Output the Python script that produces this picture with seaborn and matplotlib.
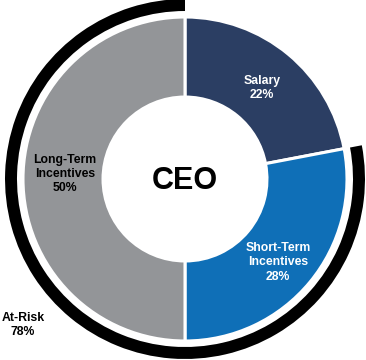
import matplotlib
matplotlib.use("Agg")
import matplotlib.pyplot as plt
import seaborn as sns

categories = ["Salary", "Short-Term\nIncentives", "Long-Term\nIncentives"]
values = [22, 28, 50]
at_risk_label = "At-Risk"
at_risk_value = 78
center_label = "CEO"

colors = ["#2B3E63", "#0F6FB7", "#939598"]
text_colors = ["white", "white", "black"]

sns.set_theme(style="white")
plt.rcParams['font.family'] = ['Liberation Sans', 'DejaVu Sans']

fig = plt.figure(figsize=(3.66, 3.60), dpi=100)
ax = fig.add_axes([0, 0, 1, 1])

ax.pie(values, colors=colors, startangle=90, counterclock=False, radius=1.0,
       wedgeprops=dict(width=0.494, edgecolor="white", linewidth=2.2))

ax.pie([100 - at_risk_value, at_risk_value], colors=["none", "black"], startangle=90,
       counterclock=False, radius=1.111, wedgeprops=dict(width=0.074, linewidth=0))

label_pos = [(0.475, 0.56), (0.574, -0.515), (-0.741, 0.03)]
for cat, v, (x, y), tc in zip(categories, values, label_pos, text_colors):
    ax.text(x, y, f"{cat}\n{v}%", ha="center", va="center", color=tc,
            fontsize=8.8, fontweight="bold", linespacing=1.25)

ax.text(0, -0.01, center_label, ha="center", va="center", fontsize=22, fontweight="bold", color="black")
ax.text(-1.0, -0.9, f"{at_risk_label}\n{at_risk_value}%", ha="center", va="center",
        fontsize=8.8, fontweight="bold", color="black", linespacing=1.25)

ax.set_xlim(-185/162, (366-185)/162)
ax.set_ylim(-(360-179)/162, 179/162)
ax.set_aspect("auto")
ax.axis("off")
fig.savefig("out.png", dpi=100)
